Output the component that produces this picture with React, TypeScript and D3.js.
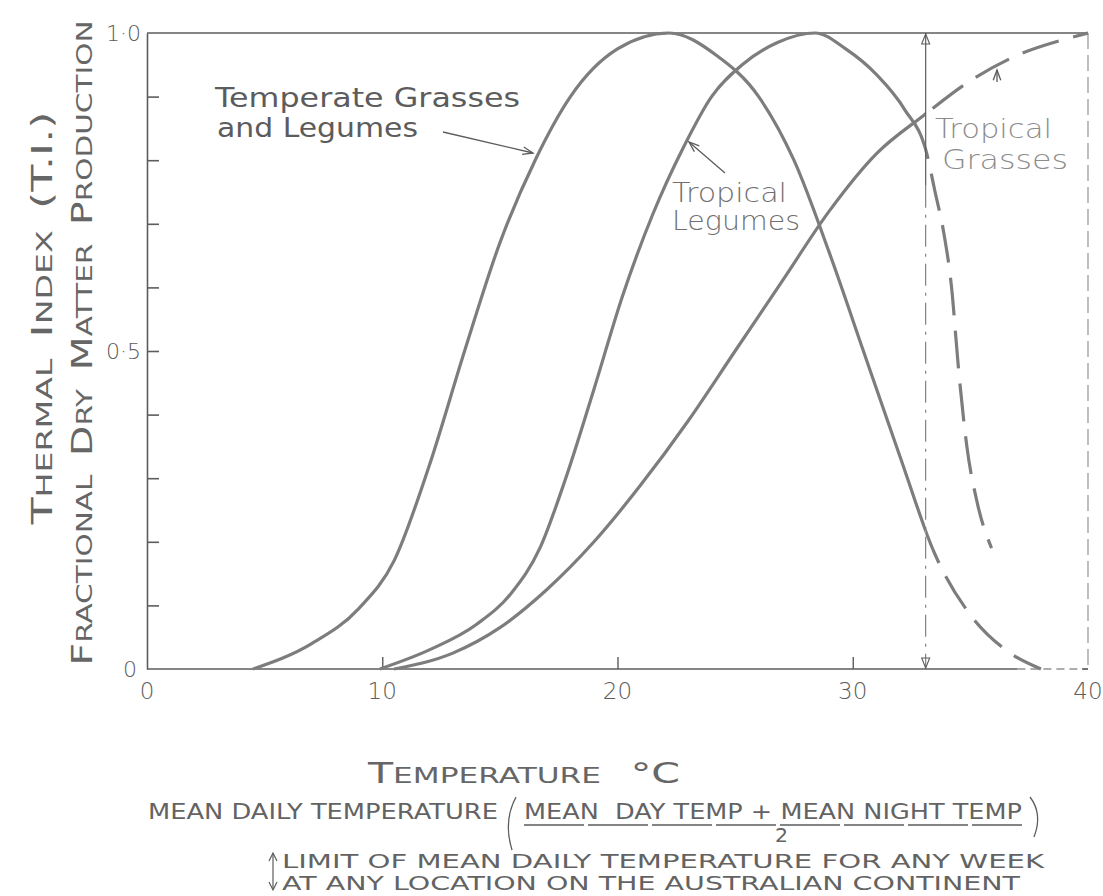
import React, { useEffect, useRef } from "react";
import * as d3 from "d3";

// values (temperature °C, thermal index)
const temperateT = [4.5, 7, 9, 10.5, 12, 13.5, 15, 16.5, 18, 20, 22.2, 24.2, 26, 27.5, 29, 30.5, 32, 33.5, 35, 36.5, 38];
const temperateV = [0, 0.04, 0.095, 0.17, 0.32, 0.5, 0.67, 0.8, 0.9, 0.975, 1.0, 0.965, 0.9, 0.8, 0.655, 0.495, 0.335, 0.18, 0.085, 0.03, 0];

const legumesT = [9.9, 12, 14, 15.5, 16.7, 17.8, 19, 20.2, 21.5, 22.8, 24, 25.3, 26.8, 28.4, 29.7, 31, 32.2, 33.15, 33.5, 33.85, 34.2, 34.5, 34.85, 35.3, 35.9];
const legumesV = [0, 0.03, 0.07, 0.12, 0.19, 0.3, 0.44, 0.585, 0.715, 0.82, 0.9, 0.95, 0.985, 1.0, 0.975, 0.935, 0.88, 0.81, 0.75, 0.69, 0.6, 0.47, 0.35, 0.26, 0.19];

const grassesT = [10.5, 13, 15, 17, 19, 21, 23, 25, 27, 29, 31, 33, 35, 37, 39, 40];
const grassesV = [0, 0.025, 0.065, 0.125, 0.2, 0.29, 0.39, 0.5, 0.61, 0.72, 0.81, 0.87, 0.925, 0.965, 0.99, 1.0];

const limitTemp = 33.1;
const xTicks = [10, 20, 30];
const xTickLabels = ["0", "10", "20", "30", "40"];
const yTicks = d3.range(1, 10).map((d) => d / 10);
const yTickLabels = [{ v: 1, t: "1·0" }, { v: 0.5, t: "0·5" }, { v: 0, t: "0" }];

const ink = "#5c5c5c";
const curveInk = "#7d7d7d";
const font = "'DejaVu Sans', sans-serif";
const nb = "\u00A0";

const App = () => {
  const ref = useRef(null);

  useEffect(() => {
    const svg = d3.select(ref.current);
    svg.selectAll("*").remove();

    const x = d3.scaleLinear().domain([0, 40]).range([147, 1088]);
    const y = d3.scaleLinear().domain([0, 1]).range([669, 33]);

    const defs = svg.append("defs");
    defs.append("clipPath").attr("id", "solidPart")
      .append("rect").attr("x", 0).attr("y", 0).attr("width", x(limitTemp)).attr("height", 896);
    defs.append("clipPath").attr("id", "dashPart")
      .append("rect").attr("x", x(limitTemp)).attr("y", 0).attr("width", 1103).attr("height", 896);

    // frame
    svg.append("g")
      .attr("transform", `translate(${x(0)},0)`)
      .call(d3.axisRight(y).tickValues(yTicks).tickSize(12).tickSizeOuter(0).tickFormat(() => ""))
      .call((g) => g.selectAll("path,line").attr("stroke", ink).attr("stroke-width", 1.6));

    svg.append("g")
      .attr("transform", `translate(0,${y(0)})`)
      .call(d3.axisTop(x).tickValues(xTicks).tickSize(12).tickSizeOuter(0).tickFormat(() => ""))
      .call((g) => g.select(".domain").remove())
      .call((g) => g.selectAll("line").attr("stroke", ink).attr("stroke-width", 1.4));

    svg.append("line")
      .attr("x1", x(0)).attr("x2", x(37)).attr("y1", y(0)).attr("y2", y(0))
      .attr("stroke", ink).attr("stroke-width", 1.6);
    svg.append("line")
      .attr("x1", x(37)).attr("x2", x(40)).attr("y1", y(0)).attr("y2", y(0))
      .attr("stroke", ink).attr("stroke-width", 1.2).attr("stroke-dasharray", "8,5");
    svg.append("line")
      .attr("x1", x(0)).attr("x2", x(40)).attr("y1", y(1)).attr("y2", y(1))
      .attr("stroke", ink).attr("stroke-width", 1.6);
    svg.append("line")
      .attr("x1", x(40)).attr("x2", x(40)).attr("y1", y(1)).attr("y2", y(0))
      .attr("stroke", "#8a8a8a").attr("stroke-width", 1.1).attr("stroke-dasharray", "16,6");
    svg.append("line")
      .attr("x1", x(40) - 6).attr("x2", x(40)).attr("y1", y(0)).attr("y2", y(0))
      .attr("stroke", ink).attr("stroke-width", 1.4);

    // tick labels
    svg.append("g").selectAll("text")
      .data(xTickLabels)
      .join("text")
      .attr("x", (d) => x(+d))
      .attr("y", 699)
      .attr("text-anchor", "middle")
      .attr("font-family", font)
      .attr("font-weight", 300)
      .attr("font-size", 23)
      .attr("fill", ink)
      .text((d) => d);

    svg.append("g").selectAll("text")
      .data(yTickLabels)
      .join("text")
      .attr("x", (d) => (d.v === 0 ? 137 : 141))
      .attr("y", (d) => y(d.v) + 8)
      .attr("text-anchor", "end")
      .attr("font-family", font)
      .attr("font-weight", 300)
      .attr("font-size", 22)
      .attr("fill", ink)
      .text((d) => d.t);

    // curves
    const line = d3.line<[number, number]>()
      .x((d) => x(d[0]))
      .y((d) => y(d[1]))
      .curve(d3.curveMonotoneX);

    const series = [
      temperateT.map((t, i) => [t, temperateV[i]]),
      legumesT.map((t, i) => [t, legumesV[i]]),
      grassesT.map((t, i) => [t, grassesV[i]]),
    ];

    const curves = svg.append("g").attr("fill", "none").attr("stroke", curveInk).attr("stroke-width", 3.2);
    curves.selectAll("path.solid")
      .data(series)
      .join("path")
      .attr("class", "solid")
      .attr("clip-path", "url(#solidPart)")
      .attr("d", (d) => line(d as [number, number][]));
    curves.selectAll("path.dash")
      .data(series)
      .join("path")
      .attr("class", "dash")
      .attr("clip-path", "url(#dashPart)")
      .attr("stroke-dasharray", "38,15")
      .attr("d", (d) => line(d as [number, number][]));

    // limit line with arrows
    const lx = x(limitTemp);
    svg.append("line")
      .attr("x1", lx).attr("x2", lx).attr("y1", y(1)).attr("y2", y(0.76))
      .attr("stroke", ink).attr("stroke-width", 1.2);
    svg.append("line")
      .attr("x1", lx).attr("x2", lx).attr("y1", y(0.76)).attr("y2", y(0))
      .attr("stroke", "#777").attr("stroke-width", 1.1).attr("stroke-dasharray", "22,7,3,7");
    svg.append("path")
      .attr("d", `M${lx - 4},${y(1) + 11} L${lx},${y(1) + 1} L${lx + 4},${y(1) + 11} Z`)
      .attr("fill", "none").attr("stroke", ink).attr("stroke-width", 1.1);
    svg.append("path")
      .attr("d", `M${lx - 4},${y(0) - 11} L${lx},${y(0) - 1} L${lx + 4},${y(0) - 11} Z`)
      .attr("fill", "none").attr("stroke", ink).attr("stroke-width", 1.1);

    // annotations
    const label = (txt: string, px: number, py: number, len: number, size: number, fill = ink, weight = 400) =>
      svg.append("text")
        .attr("x", px).attr("y", py)
        .attr("font-family", font)
        .attr("font-size", size)
        .attr("font-weight", weight)
        .attr("fill", fill)
        .attr("textLength", len)
        .attr("lengthAdjust", "spacingAndGlyphs")
        .text(txt);

    label("Temperate Grasses", 215, 107, 305, 27);
    label("and Legumes", 217, 137, 201, 27);
    label("Tropical", 672, 202, 115, 27, "#707070", 300);
    label("Legumes", 672, 230, 128, 27, "#707070", 300);
    label("Tropical", 935, 138, 117, 26, "#8c8c8c", 300);
    label("Grasses", 942, 169, 126, 26, "#8c8c8c", 300);

    const arrow = (x1: number, y1: number, x2: number, y2: number) => {
      svg.append("line").attr("x1", x1).attr("y1", y1).attr("x2", x2).attr("y2", y2)
        .attr("stroke", ink).attr("stroke-width", 1.3);
      const a = Math.atan2(y2 - y1, x2 - x1);
      const h = 11;
      const p1 = [x2 - h * Math.cos(a - 0.35), y2 - h * Math.sin(a - 0.35)];
      const p2 = [x2 - h * Math.cos(a + 0.35), y2 - h * Math.sin(a + 0.35)];
      svg.append("path")
        .attr("d", `M${p1[0]},${p1[1]} L${x2},${y2} L${p2[0]},${p2[1]}`)
        .attr("fill", "none").attr("stroke", ink).attr("stroke-width", 1.3);
    };
    arrow(443, 132, 533, 153);
    arrow(725, 173, 689, 142);
    arrow(997, 82, 997, 70);

    // y axis titles
    const vTitle = (parts: [string, boolean][], cx: number, cy: number, len: number) => {
      const t = svg.append("text")
        .attr("transform", `translate(${cx},${cy}) rotate(-90)`)
        .attr("text-anchor", "middle")
        .attr("font-family", font)
        .attr("fill", "#666")
        .attr("textLength", len)
        .attr("lengthAdjust", "spacingAndGlyphs");
      parts.forEach(([s, big]) => t.append("tspan").attr("font-size", big ? 28 : 21).text(s));
    };
    vTitle([["T", true], ["HERMAL" + nb + nb, false], ["I", true], ["NDEX" + nb + nb, false], ["(T.I.)", true]], 52, 318, 413);
    vTitle([["F", true], ["RACTIONAL" + nb + nb, false], ["D", true], ["RY" + nb + nb, false], ["M", true], ["ATTER" + nb + nb, false], ["P", true], ["RODUCTION", false]], 92, 343, 645);

    // x axis titles
    const hTitle = svg.append("text")
      .attr("x", 368).attr("y", 783)
      .attr("font-family", font).attr("fill", "#666")
      .attr("textLength", 312).attr("lengthAdjust", "spacingAndGlyphs");
    [["T", 29], ["EMPERATURE" + nb + nb + nb, 22], ["°C", 29]].forEach(([s, fs]) =>
      hTitle.append("tspan").attr("font-size", fs as number).text(s as string));

    const caps = (txt: string, px: number, py: number, len: number, size = 21) =>
      svg.append("text")
        .attr("x", px).attr("y", py)
        .attr("font-family", font)
        .attr("font-size", size)
        .attr("fill", "#636363")
        .attr("textLength", len)
        .attr("lengthAdjust", "spacingAndGlyphs")
        .text(txt);

    caps("MEAN DAILY TEMPERATURE", 148, 819, 350);
    svg.append("path")
      .attr("d", "M516,797 Q503,821 512,850")
      .attr("fill", "none").attr("stroke", ink).attr("stroke-width", 1.3);
    caps("MEAN" + nb + " DAY TEMP + MEAN NIGHT TEMP", 524, 819, 498);
    svg.append("line").attr("x1", 524).attr("x2", 1022).attr("y1", 825).attr("y2", 825)
      .attr("stroke", ink).attr("stroke-width", 1.3).attr("stroke-dasharray", "60,4");
    caps("2", 775, 842, 13, 19);
    svg.append("path")
      .attr("d", "M1030,797 Q1043,814 1034,837")
      .attr("fill", "none").attr("stroke", ink).attr("stroke-width", 1.3);

    caps("LIMIT OF MEAN DAILY TEMPERATURE FOR ANY WEEK", 282, 868, 762, 20);
    caps("AT ANY LOCATION ON THE AUSTRALIAN CONTINENT", 282, 890, 738, 20);
    svg.append("line").attr("x1", 273).attr("x2", 273).attr("y1", 853).attr("y2", 889)
      .attr("stroke", ink).attr("stroke-width", 1.2);
    svg.append("path").attr("d", "M269,861 L273,853 L277,861")
      .attr("fill", "none").attr("stroke", ink).attr("stroke-width", 1.2);
    svg.append("path").attr("d", "M269,882 L273,890 L277,882")
      .attr("fill", "none").attr("stroke", ink).attr("stroke-width", 1.2);
  }, []);

  return (
    <svg
      ref={ref}
      width={1103}
      height={896}
      style={{ position: "absolute", left: 0, top: 0, background: "#fff" }}
    ></svg>
  );
};

export default App;
